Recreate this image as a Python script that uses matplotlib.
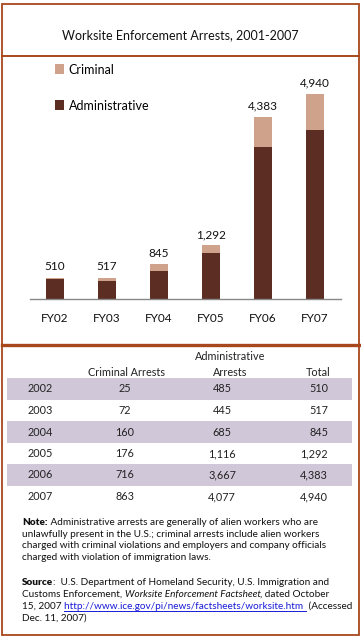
import matplotlib.pyplot as plt
import matplotlib.patches as mpatches
from matplotlib.lines import Line2D

plt.rcParams['font.family'] = ['Lato', 'DejaVu Sans']

years = ["FY02", "FY03", "FY04", "FY05", "FY06", "FY07"]
table_years = ["2002", "2003", "2004", "2005", "2006", "2007"]
criminal = [25, 72, 160, 176, 716, 863]
administrative = [485, 445, 685, 1116, 3667, 4077]
totals = [510, 517, 845, 1292, 4383, 4940]

ADMIN_C = "#5c2e23"
CRIM_C = "#cfa38b"
RUST = "#a8461c"
BAND = "#d0c7d8"

W, H = 361, 637
fig = plt.figure(figsize=(W / 100, H / 100), dpi=100)


def fx(x):
    return x / W


def fy(y):
    return 1 - y / H


# frame
fig.patches.append(mpatches.Rectangle((fx(1.5), fy(634.5)), fx(357), (633 - 2) / H,
                                      transform=fig.transFigure, fill=False,
                                      edgecolor=RUST, linewidth=1.3))
fig.lines.append(Line2D([fx(1.5), fx(358.5)], [fy(55.5), fy(55.5)],
                        transform=fig.transFigure, color=RUST, linewidth=1.4))
fig.lines.append(Line2D([fx(1.5), fx(358.5)], [fy(345.5), fy(345.5)],
                        transform=fig.transFigure, color=RUST, linewidth=2.4))

fig.text(fx(180), fy(35), "Worksite Enforcement Arrests, 2001-2007",
         ha="center", va="center", fontsize=9.0, color="#111111")

# bar chart
base_y, top_y = 299, 62
scale = 0.0415
ax = fig.add_axes([fx(30), fy(base_y), fx(341) - fx(30), (base_y - top_y) / H])
x = list(range(len(years)))
ax.bar(x, administrative, width=0.35, color=ADMIN_C, label="Administrative")
ax.bar(x, criminal, width=0.35, bottom=administrative, color=CRIM_C, label="Criminal")
for xi, t in zip(x, totals):
    ax.text(xi, t + 130, f"{t:,}", ha="center", va="bottom", fontsize=8.5, color="#111111")
ax.set_xlim(-25 / 52, (341 - 55) / 52)
ax.set_ylim(0, (base_y - top_y) / scale)
ax.set_xticks(x)
ax.set_xticklabels(years, fontsize=8.5, color="#111111")
ax.tick_params(axis="x", length=0, pad=10)
ax.set_yticks([])
for s in ["top", "left", "right"]:
    ax.spines[s].set_visible(False)
ax.spines["bottom"].set_color("#888888")
ax.spines["bottom"].set_linewidth(1.0)
ax.patch.set_alpha(0)

h, l = ax.get_legend_handles_labels()
leg = fig.legend(h[::-1], l[::-1], loc="upper left", bbox_to_anchor=(fx(46), fy(55)),
                 frameon=False, fontsize=9, handlelength=0.75, handleheight=0.85,
                 handletextpad=0.35, labelspacing=1.9, borderpad=0.2)

# table
band_x0, band_x1 = 7, 352
row_y = [389, 410.5, 432, 453.5, 475, 496.5]
row_h = 21.5
for i, yy in enumerate(row_y):
    if i % 2 == 0:
        fig.patches.append(mpatches.Rectangle((fx(band_x0), fy(yy + row_h / 2)),
                                              fx(band_x1 - band_x0), row_h / H,
                                              transform=fig.transFigure,
                                              color=BAND, linewidth=0))

tfs = 7.8
tc = "#222222"
fig.text(fx(126), fy(372), "Criminal Arrests", ha="center", va="center", fontsize=tfs, color=tc)
fig.text(fx(230), fy(357), "Administrative", ha="center", va="center", fontsize=tfs, color=tc)
fig.text(fx(230), fy(372), "Arrests", ha="center", va="center", fontsize=tfs, color=tc)
fig.text(fx(330), fy(372), "Total", ha="right", va="center", fontsize=tfs, color=tc)
for yy, yr, c, a, t in zip(row_y, table_years, criminal, administrative, totals):
    fig.text(fx(28), fy(yy), yr, ha="left", va="center", fontsize=tfs, color=tc)
    fig.text(fx(125), fy(yy), f"{c:,}", ha="center", va="center", fontsize=tfs, color=tc)
    fig.text(fx(222), fy(yy), f"{a:,}", ha="center", va="center", fontsize=tfs, color=tc)
    fig.text(fx(328), fy(yy), f"{t:,}", ha="right", va="center", fontsize=tfs, color=tc)

# notes, written piece by piece so bold/italic/link can share a line
nfs = 7.2
fig.canvas.draw()
renderer = fig.canvas.get_renderer()


def rich_line(x0, y0, pieces):
    xp = x0
    for txt, style in pieces:
        kw = dict(fontsize=nfs, color="#111111", va="baseline", ha="left")
        if style == "b":
            kw["fontweight"] = "heavy"
        elif style == "i":
            kw["fontstyle"] = "italic"
        elif style == "u":
            kw["color"] = "#1a1ad8"
        t = fig.text(fx(xp), fy(y0), txt, **kw)
        bb = t.get_window_extent(renderer)
        if style == "u":
            fig.lines.append(Line2D([fx(xp), fx(xp + bb.width)], [fy(y0 + 2), fy(y0 + 2)],
                                    transform=fig.transFigure, color="#1a1ad8", linewidth=0.7))
        xp += bb.width


note_lines = [
    [("Note:", "b"), (" Administrative arrests are generally of alien workers who are", "")],
    [("unlawfully present in the U.S.; criminal arrests include alien workers", "")],
    [("charged with criminal violations and employers and company officials", "")],
    [("charged with violation of immigration laws.", "")],
]
for k, pcs in enumerate(note_lines):
    rich_line(22, 525 + k * 11.7, pcs)

src_lines = [
    [("Source", "b"), (":  U.S. Department of Homeland Security, U.S. Immigration and", "")],
    [("Customs Enforcement, ", ""), ("Worksite Enforcement Factsheet", "i"), (", dated October", "")],
    [("15, 2007 ", ""), ("http://www.ice.gov/pi/news/factsheets/worksite.htm ", "u"), (" (Accessed", "")],
    [("Dec. 11, 2007)", "")],
]
for k, pcs in enumerate(src_lines):
    rich_line(22, 585 + k * 12, pcs)

fig.savefig("out.png", dpi=100)
